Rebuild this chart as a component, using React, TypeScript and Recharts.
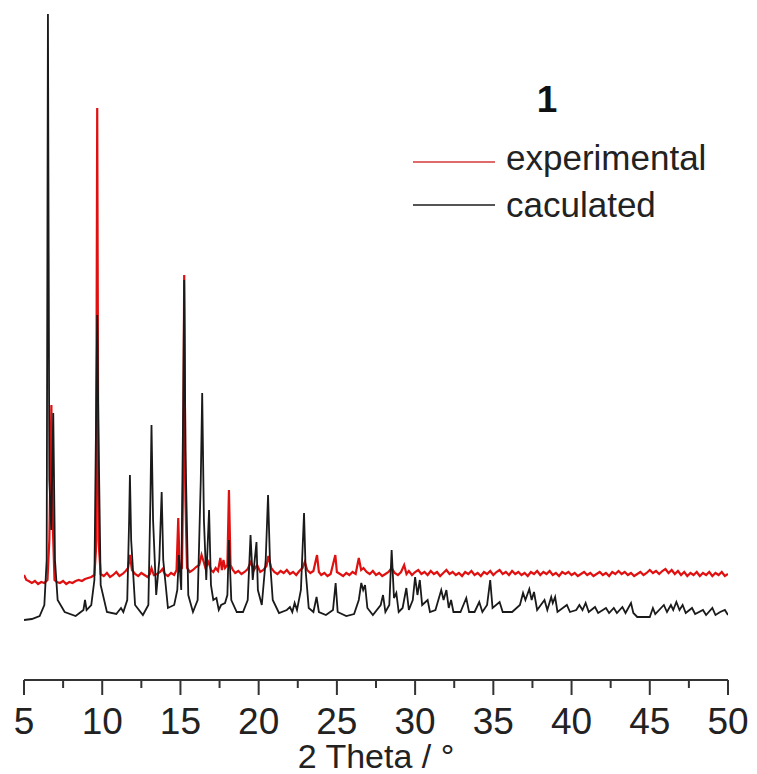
import React from 'react';
import { LineChart, Line, XAxis, YAxis } from 'recharts';

// calculated pattern: [2θ, intensity (a.u., offset plot)]
const calcTheta = [5.0, 5.5, 6.0, 6.3, 6.45, 6.53, 6.62, 6.74, 6.87, 6.98, 7.15, 7.6, 8.3, 8.8, 8.9, 9.0, 9.3, 9.5, 9.62, 9.68, 9.75, 9.9, 10.3, 10.9, 11.2, 11.35, 11.6, 11.72, 11.77, 11.85, 12.1, 12.6, 12.95, 13.08, 13.15, 13.25, 13.45, 13.65, 13.8, 13.9, 14.2, 14.6, 14.8, 14.9, 15.05, 15.18, 15.24, 15.32, 15.5, 15.8, 16.1, 16.3, 16.39, 16.5, 16.65, 16.83, 16.95, 17.1, 17.3, 17.45, 17.6, 17.85, 18.0, 18.1, 18.25, 18.6, 19.0, 19.3, 19.48, 19.62, 19.86, 19.95, 20.2, 20.45, 20.6, 20.72, 20.9, 21.3, 21.8, 22.0, 22.15, 22.3, 22.45, 22.7, 22.9, 23.0, 23.2, 23.5, 23.7, 23.85, 24.3, 24.75, 24.92, 25.05, 25.6, 26.1, 26.4, 26.56, 26.68, 26.8, 26.95, 27.3, 27.8, 27.95, 28.1, 28.35, 28.5, 28.65, 28.8, 28.95, 29.2, 29.44, 29.6, 29.85, 30.0, 30.15, 30.3, 30.45, 30.8, 30.95, 31.3, 31.67, 31.82, 32.0, 32.15, 32.3, 32.45, 32.9, 33.27, 33.45, 33.8, 34.1, 34.3, 34.6, 34.8, 34.95, 35.4, 35.6, 36.2, 36.7, 36.9, 37.05, 37.3, 37.45, 37.6, 37.8, 38.27, 38.45, 38.7, 38.8, 38.95, 39.1, 39.7, 39.9, 40.3, 40.5, 40.7, 40.9, 41.1, 41.5, 41.7, 42.2, 42.4, 42.7, 42.9, 43.25, 43.45, 43.8, 43.95, 44.2, 45.0, 45.2, 45.35, 45.9, 46.1, 46.35, 46.5, 46.7, 46.9, 47.1, 47.3, 47.7, 47.9, 48.4, 48.6, 49.0, 49.2, 49.5, 49.8, 50.0];
const calcIntensity = [60, 61, 64, 75, 120, 666, 200, 150, 267, 120, 80, 68, 64, 70, 80, 70, 75, 100, 280, 365, 260, 95, 68, 66, 72, 68, 80, 160, 205, 140, 75, 65, 75, 180, 255, 160, 85, 120, 188, 120, 72, 75, 90, 125, 90, 280, 400, 230, 85, 68, 80, 200, 287, 160, 100, 170, 95, 80, 82, 70, 75, 77, 85, 140, 80, 68, 68, 80, 145, 100, 138, 90, 75, 120, 185, 120, 80, 67, 70, 73, 68, 77, 70, 90, 167, 110, 72, 68, 83, 68, 65, 70, 97, 68, 64, 66, 80, 97, 90, 95, 72, 65, 75, 85, 68, 75, 130, 82, 87, 68, 72, 92, 70, 80, 103, 85, 100, 75, 80, 68, 70, 90, 80, 90, 72, 80, 68, 68, 82, 68, 68, 78, 68, 75, 100, 72, 78, 68, 68, 75, 87, 80, 91, 80, 88, 70, 80, 70, 83, 77, 83, 68, 75, 68, 70, 75, 70, 77, 68, 73, 67, 72, 67, 72, 67, 73, 67, 77, 67, 63, 63, 72, 66, 75, 68, 75, 70, 78, 70, 75, 67, 72, 66, 70, 65, 72, 65, 68, 70, 65];

// experimental pattern: [2θ, intensity (a.u., offset plot)]
const expTheta = [5.0, 5.15, 5.3, 5.5, 5.7, 5.9, 6.1, 6.3, 6.5, 6.62, 6.75, 6.85, 6.95, 7.1, 7.3, 7.5, 7.7, 7.9, 8.1, 8.3, 8.5, 8.7, 8.9, 9.1, 9.3, 9.5, 9.6, 9.68, 9.76, 9.9, 10.1, 10.3, 10.5, 10.7, 10.9, 11.1, 11.3, 11.5, 11.65, 11.77, 11.9, 12.1, 12.3, 12.5, 12.7, 12.9, 13.05, 13.15, 13.3, 13.5, 13.7, 13.85, 14.0, 14.2, 14.4, 14.6, 14.75, 14.86, 14.95, 15.1, 15.17, 15.24, 15.32, 15.42, 15.6, 15.8, 16.0, 16.2, 16.35, 16.45, 16.6, 16.8, 16.95, 17.1, 17.25, 17.4, 17.55, 17.65, 17.75, 17.85, 18.0, 18.1, 18.2, 18.35, 18.5, 18.7, 18.9, 19.1, 19.3, 19.5, 19.7, 19.9, 20.1, 20.3, 20.5, 20.62, 20.8, 21.0, 21.2, 21.4, 21.6, 21.8, 22.0, 22.2, 22.4, 22.6, 22.8, 22.95, 23.1, 23.3, 23.5, 23.73, 23.85, 24.0, 24.2, 24.4, 24.6, 24.9, 25.0, 25.2, 25.4, 25.6, 25.8, 26.0, 26.2, 26.4, 26.55, 26.7, 26.9, 27.1, 27.3, 27.5, 27.7, 27.9, 28.1, 28.3, 28.5, 28.7, 28.9, 29.1, 29.3, 29.45, 29.6, 29.8, 30.0, 30.2, 30.4, 30.6, 30.8, 31.0, 31.2, 31.4, 31.6, 31.8, 32.0, 32.2, 32.4, 32.6, 32.8, 33.0, 33.2, 33.4, 33.6, 33.8, 34.0, 34.2, 34.4, 34.6, 34.8, 35.0, 35.2, 35.4, 35.6, 35.8, 36.0, 36.2, 36.4, 36.6, 36.8, 37.0, 37.2, 37.4, 37.6, 37.8, 38.0, 38.2, 38.4, 38.6, 38.8, 39.0, 39.2, 39.4, 39.6, 39.8, 40.0, 40.2, 40.4, 40.6, 40.8, 41.0, 41.2, 41.4, 41.6, 41.8, 42.0, 42.2, 42.4, 42.6, 42.8, 43.0, 43.2, 43.4, 43.6, 43.8, 44.0, 44.2, 44.4, 44.6, 44.8, 45.0, 45.2, 45.4, 45.6, 45.8, 46.0, 46.2, 46.4, 46.6, 46.8, 47.0, 47.2, 47.4, 47.6, 47.8, 48.0, 48.2, 48.4, 48.6, 48.8, 49.0, 49.2, 49.4, 49.6, 49.8, 50.0];
const expIntensity = [105, 100, 99, 97, 99, 96, 98, 97, 100, 140, 275, 150, 100, 98, 97, 99, 96, 98, 97, 99, 100, 99, 101, 102, 103, 105, 130, 572, 140, 106, 104, 107, 103, 105, 108, 104, 106, 109, 112, 125, 110, 106, 104, 107, 105, 103, 106, 112, 105, 106, 108, 111, 106, 104, 107, 105, 110, 162, 110, 112, 200, 405, 180, 112, 108, 110, 113, 115, 125, 120, 112, 118, 110, 108, 112, 109, 122, 110, 120, 112, 115, 190, 115, 110, 107, 109, 106, 108, 111, 118, 110, 115, 108, 110, 114, 124, 112, 108, 106, 109, 107, 110, 106, 108, 105, 109, 112, 118, 110, 107, 109, 125, 108, 105, 107, 104, 106, 125, 108, 106, 104, 107, 105, 108, 106, 122, 110, 112, 108, 106, 109, 105, 107, 104, 106, 108, 112, 107, 105, 108, 115, 106, 109, 105, 108, 110, 106, 108, 105, 109, 106, 108, 104, 107, 110, 106, 108, 105, 107, 104, 108, 106, 109, 105, 107, 104, 108, 106, 109, 105, 108, 110, 106, 108, 105, 109, 106, 108, 105, 107, 104, 108, 106, 109, 105, 108, 106, 109, 105, 107, 104, 108, 106, 108, 105, 107, 104, 106, 108, 105, 107, 104, 106, 108, 105, 107, 104, 108, 106, 109, 106, 108, 105, 107, 104, 106, 108, 105, 107, 110, 107, 109, 106, 109, 111, 107, 110, 106, 109, 105, 108, 104, 107, 105, 108, 104, 107, 105, 108, 104, 107, 105, 108, 104, 106];

const majorTicks = [5, 10, 15, 20, 25, 30, 35, 40, 45, 50];
const allTicks = [5, 7.5, 10, 12.5, 15, 17.5, 20, 22.5, 25, 27.5, 30, 32.5, 35, 37.5, 40, 42.5, 45, 47.5, 50];

const seriesNames = ['experimental', 'caculated'];
const panelLabel = '1';
const axisTitle = '2 Theta / °';

const calcData = calcTheta.map((x, i) => ({ x, y: calcIntensity[i] }));
const expData = expTheta.map((x, i) => ({ x, y: expIntensity[i] }));

const FONT = '"Liberation Sans", Arial, Helvetica, sans-serif';
const RED = '#e01010';
const BLACK = '#1a1a1a';

const TICK_SIZE = 15;
const TICK_MARGIN = 11;

function AxisTick(props: any) {
  const { x, y, payload } = props;
  const v = payload.value;
  const isMajor = majorTicks.includes(v);
  const axisY = y - TICK_SIZE - TICK_MARGIN;
  const len = isMajor ? 15 : 8;
  return (
    <g>
      <line x1={x} y1={axisY} x2={x} y2={axisY + len} stroke="#333" strokeWidth={2} />
      {isMajor && (
        <text x={x} y={axisY + 54} textAnchor="middle" fontSize={37} fill="#222" fontFamily={FONT}>
          {String(v)}
        </text>
      )}
    </g>
  );
}

export default function App() {
  return (
    <div style={{ position: 'absolute', left: 0, top: 0, width: 757, height: 774, background: '#fff' }}>
      <LineChart
        width={757}
        height={774}
        margin={{ top: 10, right: 29, left: 24, bottom: 0 }}
        style={{ fontFamily: FONT }}
      >
        <XAxis
          dataKey="x"
          type="number"
          domain={[5, 50]}
          ticks={allTicks}
          interval={0}
          allowDataOverflow
          height={94}
          axisLine={{ stroke: '#333', strokeWidth: 2 }}
          tickLine={false}
          tickSize={TICK_SIZE}
          tickMargin={TICK_MARGIN}
          tick={<AxisTick />}
          label={{ value: axisTitle, position: 'insideBottom', offset: 6, fontSize: 34, fill: '#222', fontFamily: FONT }}
        />
        <YAxis type="number" domain={[0, 670]} hide allowDataOverflow />
        <Line
          data={expData}
          dataKey="y"
          type="linear"
          stroke={RED}
          strokeWidth={2.2}
          dot={false}
          isAnimationActive={false}
        />
        <Line
          data={calcData}
          dataKey="y"
          type="linear"
          stroke={BLACK}
          strokeWidth={1.8}
          dot={false}
          isAnimationActive={false}
        />
      </LineChart>
      <svg
        width={757}
        height={774}
        style={{ position: 'absolute', left: 0, top: 0, pointerEvents: 'none' }}
      >
        <text x={547} y={112} textAnchor="middle" fontSize={37} fontWeight="bold" fill="#111" fontFamily={FONT}>
          {panelLabel}
        </text>
        <line x1={413} y1={162} x2={495} y2={162} stroke="#e06a6a" strokeWidth={2} />
        <text x={506} y={170} fontSize={35} fill="#222" fontFamily={FONT}>
          {seriesNames[0]}
        </text>
        <line x1={413} y1={205} x2={495} y2={205} stroke="#555" strokeWidth={2} />
        <text x={506} y={217} fontSize={35} fill="#222" fontFamily={FONT}>
          {seriesNames[1]}
        </text>
      </svg>
    </div>
  );
}
